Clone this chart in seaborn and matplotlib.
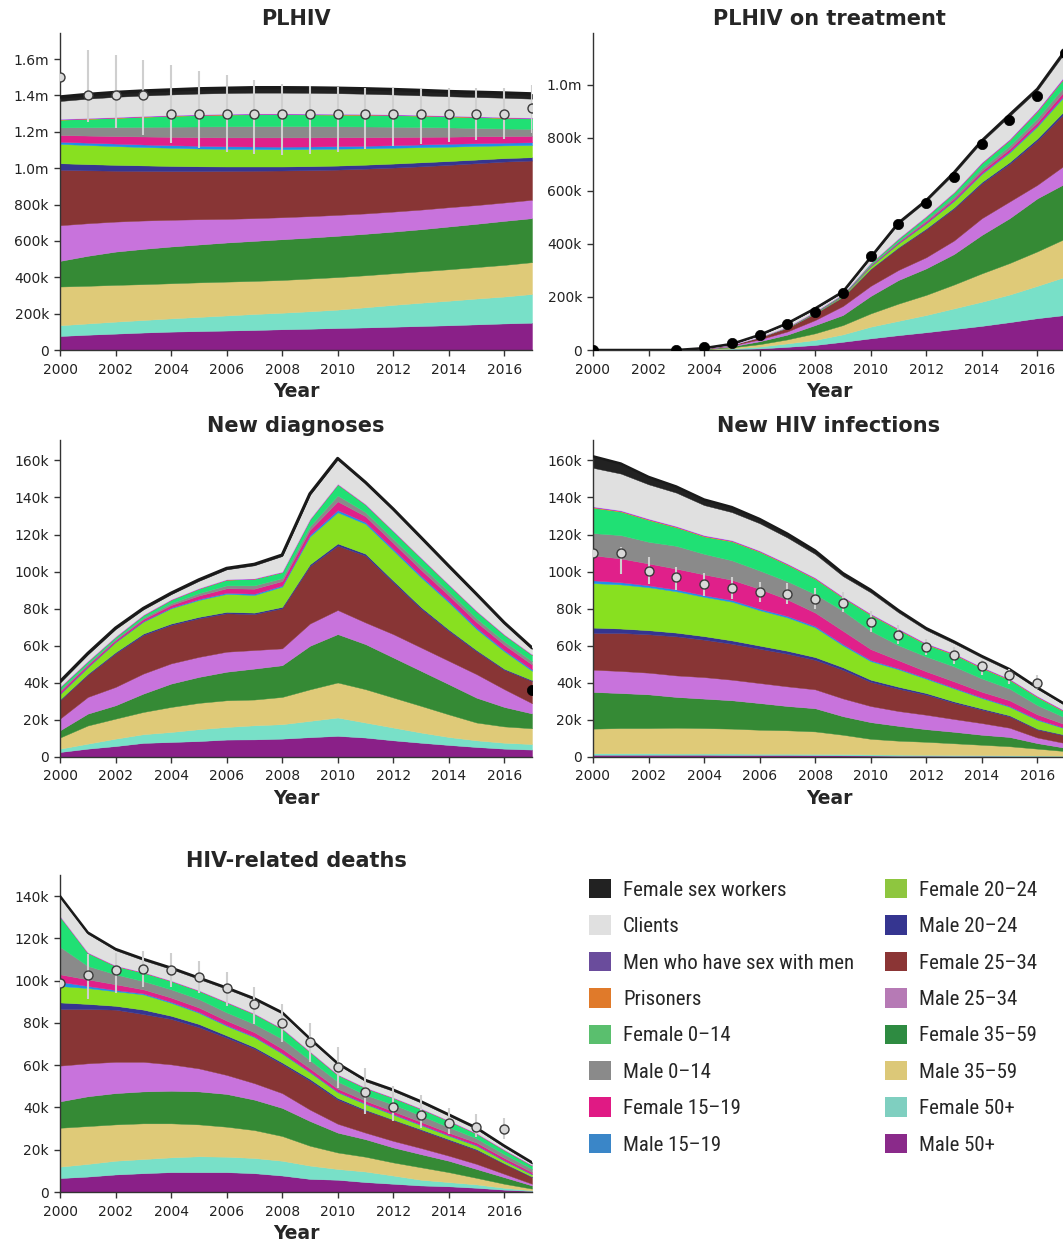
import numpy as np
import matplotlib
matplotlib.use("Agg")
import matplotlib.pyplot as plt
from matplotlib import font_manager as fm
from matplotlib.patches import Patch
from matplotlib.ticker import FuncFormatter
import seaborn as sns

years = np.arange(2000, 2018)
nan = np.nan

# ---- group labels (legend order) ----
labels = ["Female sex workers", "Clients", "Men who have sex with men", "Prisoners",
          "Female 0\u201314", "Male 0\u201314", "Female 15\u201319", "Male 15\u201319",
          "Female 20\u201324", "Male 20\u201324", "Female 25\u201334", "Male 25\u201334",
          "Female 35\u201359", "Male 35\u201359", "Female 50+", "Male 50+"]

# ---- PLHIV (thousands), stacked bottom to top ----
plhiv_m50 = [77, 84, 90, 96, 101, 104, 107, 110, 114, 117, 121, 124, 128, 132, 136, 141, 146, 150]
plhiv_f50 = [59, 62, 66, 69, 73, 78, 83, 88, 91, 96, 101, 111, 120, 128, 135, 142, 148, 158]
plhiv_m35 = [213, 207, 202, 197, 193, 190, 186, 182, 180, 180, 179, 176, 174, 173, 173, 173, 174, 175]
plhiv_f35 = [141, 165, 183, 194, 202, 208, 215, 220, 224, 225, 227, 228, 229, 231, 235, 238, 242, 242]
plhiv_m25 = [196, 179, 165, 156, 147, 139, 130, 125, 121, 118, 115, 112, 110, 108, 106, 103, 101, 101]
plhiv_f25 = [305, 291, 280, 273, 268, 265, 264, 261, 257, 253, 249, 246, 242, 238, 233, 230, 225, 216]
plhiv_m20 = [36, 34, 32, 30, 28, 26, 24, 23, 22, 22, 22, 22, 22, 22, 21, 20, 19, 18]
plhiv_f20 = [106, 105, 103, 101, 100, 98, 97, 96, 95, 94, 93, 90, 87, 83, 79, 75, 70, 67]
plhiv_m15 = [12, 13, 14, 14, 14, 15, 14, 14, 14, 14, 14, 14, 14, 15, 16, 15, 15, 15]
plhiv_f15 = [37, 39, 41, 44, 46, 47, 49, 50, 51, 50, 49, 47, 45, 42, 39, 38, 36, 35]
plhiv_m0 = [42, 46, 50, 53, 56, 59, 61, 62, 62, 62, 60, 59, 57, 54, 51, 46, 42, 39]
plhiv_f0 = [42, 46, 50, 55, 59, 62, 64, 65, 65, 64, 64, 64, 63, 62, 60, 59, 58, 57]
plhiv_pris = [2, 2, 2, 2, 2, 2, 2, 2, 2, 2, 2, 2, 2, 2, 2, 2, 2, 2]
plhiv_msm = [3, 3, 3, 3, 3, 3, 3, 3, 3, 3, 3, 3, 3, 3, 3, 3, 3, 3]
plhiv_cli = [98, 106, 111, 112, 113, 114, 114, 114, 114, 114, 113, 111, 109, 107, 106, 106, 106, 104]
plhiv_fsw = [22, 23, 24, 25, 25, 26, 26, 27, 27, 27, 27, 27, 27, 27, 26, 26, 26, 26]
plhiv_obs = [1500, 1400, 1400, 1400, 1300, 1300, 1300, 1300, 1300, 1300, 1300, 1300, 1300, 1300, 1300, 1300, 1300, 1330]
plhiv_lo = [nan, 1255, 1220, 1180, 1140, 1110, 1090, 1078, 1070, 1075, 1090, 1105, 1120, 1130, 1145, 1155, 1160, 1195]
plhiv_hi = [nan, 1648, 1624, 1592, 1565, 1535, 1510, 1485, 1465, 1452, 1444, 1440, 1440, 1440, 1442, 1442, 1442, 1455]

# ---- PLHIV on treatment (thousands) ----
art_m50 = [0, 0, 0, 0, 1, 3, 6, 12, 19, 31, 44, 56, 67, 79, 91, 105, 120, 132]
art_f50 = [0, 0, 0, 0, 1, 3, 7, 13, 19, 28, 44, 54, 65, 78, 91, 104, 122, 144]
art_m35 = [0, 0, 0, 0, 1, 4, 9, 15, 25, 35, 50, 65, 76, 90, 107, 119, 130, 144]
art_f35 = [0, 0, 0, 0, 1, 4, 11, 18, 31, 38, 66, 89, 100, 115, 145, 169, 200, 208]
art_m25 = [0, 0, 0, 0, 1, 3, 7, 12, 19, 34, 38, 38, 42, 51, 63, 63, 51, 70]
art_f25 = [0, 0, 0, 0, 1, 3, 8, 14, 25, 34, 63, 83, 105, 120, 131, 142, 167, 197]
art_m20 = [0, 0, 0, 0, 0, 0, 0, 0, 0.5, 1, 2, 3, 4, 5, 6, 7, 8, 10]
art_f20 = [0, 0, 0, 0, 0, 0.3, 0.7, 1.5, 2.5, 4, 9, 14, 19, 24, 30, 36, 45, 55]
art_m15 = [0, 0, 0, 0, 0, 0, 0, 0.2, 0.3, 0.5, 1, 1.5, 2, 2.5, 3, 3.5, 4, 5]
art_f15 = [0, 0, 0, 0, 0, 0, 0.3, 0.5, 1, 1.5, 3, 4, 6, 7, 9, 10, 12, 15]
art_m0 = [0, 0, 0, 0, 0, 0, 0.3, 0.5, 1, 1.5, 3, 4, 6, 8, 10, 12, 15, 18]
art_f0 = [0, 0, 0, 0, 0, 0, 0.5, 1, 2, 3, 5, 8, 11, 14, 18, 21, 26, 32]
art_pris = [0, 0, 0, 0, 0, 0, 0, 0, 0, 0.2, 0.5, 1, 1, 1, 1.5, 1.5, 2, 2]
art_msm = [0, 0, 0, 0, 0, 0, 0, 0.2, 0.3, 0.5, 1, 1.5, 2, 2, 3, 3, 4, 5]
art_cli = [0, 0, 0, 0, 1, 2.5, 6.7, 12, 9.9, 5.8, 17.5, 54, 55, 68.5, 76.5, 86, 73, 86]
art_fsw = [0, 0, 0, 0, 0, 0.2, 0.5, 1, 1.5, 2, 3, 4, 4, 5, 5, 6, 6, 7]
art_obs = [0, nan, nan, 0, 10, 25, 57, 97, 145, 214, 355, 474, 556, 654, 776, 866, 960, 1120]

# ---- New diagnoses (thousands) ----
dx_m50 = [2.7, 4.5, 5.9, 7.6, 8.1, 8.6, 9.4, 9.5, 9.9, 10.7, 11.4, 10.5, 9.0, 7.7, 6.5, 5.4, 4.5, 4.0]
dx_f50 = [1.8, 2.7, 4.0, 4.7, 5.4, 6.4, 6.8, 7.6, 7.8, 8.8, 9.9, 8.1, 6.9, 5.5, 4.3, 3.6, 3.2, 3.0]
dx_m35 = [6.0, 9.8, 10.8, 12.0, 13.5, 14.2, 14.4, 13.9, 14.7, 17.0, 18.9, 18.0, 16.2, 14.4, 12.2, 9.6, 8.8, 8.5]
dx_f35 = [3.9, 6.4, 7.2, 9.9, 12.6, 14.0, 15.4, 16.7, 17.1, 23.5, 26.1, 24.3, 21.6, 18.9, 16.3, 13.4, 10.5, 8.0]
dx_m25 = [6.3, 9.0, 9.9, 10.8, 10.9, 10.8, 10.8, 10.0, 9.1, 12.0, 13.0, 11.7, 12.6, 12.6, 12.6, 12.7, 9.6, 5.5]
dx_f25 = [9.9, 11.9, 18.1, 20.8, 20.7, 20.8, 20.7, 19.4, 21.6, 31.0, 34.7, 36.0, 27.9, 20.9, 16.1, 12.3, 10.4, 12.0]
dx_m20 = [0.5, 0.6, 0.7, 0.8, 0.8, 0.8, 0.8, 0.8, 0.8, 1.0, 1.2, 1.1, 1.0, 0.9, 0.8, 0.7, 0.6, 0.5]
dx_f20 = [2.8, 3.5, 5.4, 6.4, 8.2, 9.1, 9.7, 9.5, 10.9, 15.0, 16.8, 16.1, 16.2, 16.0, 14.6, 11.3, 9.4, 5.0]
dx_m15 = [0.3, 0.3, 0.2, 0.3, 0.4, 0.5, 0.6, 0.7, 0.6, 0.8, 1.2, 0.9, 0.9, 0.9, 0.8, 0.8, 0.7, 0.7]
dx_f15 = [1.2, 1.0, 0.9, 1.1, 1.4, 1.9, 2.4, 2.7, 2.4, 2.8, 4.7, 3.2, 3.2, 3.2, 3.0, 3.0, 2.8, 2.7]
dx_m0 = [0.8, 0.7, 0.6, 0.7, 1.0, 1.3, 1.6, 1.8, 1.6, 1.9, 3.2, 2.2, 2.2, 2.2, 2.0, 2.0, 1.9, 1.8]
dx_f0 = [1.5, 1.2, 1.1, 1.4, 1.8, 2.4, 3.0, 3.5, 3.2, 3.7, 6.0, 4.1, 4.1, 4.1, 3.7, 3.8, 3.5, 3.4]
dx_pris = [0.1] * 18
dx_msm = [0.2] * 18
dx_cli = [2.1, 3.4, 3.9, 2.8, 2.7, 3.9, 5.3, 7.0, 8.4, 12.9, 13.1, 11.1, 11.1, 10.3, 9.3, 8.4, 5.7, 2.9]
dx_fsw = [0.6] * 18
dx_obs = [nan] * 17 + [36]

# ---- New HIV infections (thousands) ----
inf_m50 = [1.2, 1.2, 1.2, 1.2, 1.2, 1.1, 1.1, 1.1, 1.0, 0.9, 0.8, 0.7, 0.7, 0.6, 0.6, 0.5, 0.5, 0.4]
inf_f50 = [0.8, 0.8, 0.8, 0.7, 0.7, 0.8, 0.7, 0.7, 0.7, 0.7, 0.6, 0.6, 0.5, 0.5, 0.4, 0.4, 0.3, 0.3]
inf_m35 = [13.3, 13.6, 13.6, 13.9, 13.7, 13.4, 12.9, 12.6, 12.1, 10.4, 8.4, 7.5, 7.0, 6.3, 5.6, 4.9, 3.7, 2.5]
inf_f35 = [19.8, 18.9, 18.2, 16.6, 15.9, 15.3, 14.4, 13.1, 12.5, 10.0, 9.0, 8.0, 6.8, 6.2, 5.4, 5.0, 3.0, 1.8]
inf_m25 = [12.0, 11.9, 11.7, 11.6, 11.6, 11.1, 10.8, 10.6, 10.2, 9.6, 8.7, 8.0, 7.8, 6.9, 6.3, 5.0, 3.0, 2.5]
inf_f25 = [19.8, 20.5, 20.7, 21.1, 20.2, 19.4, 18.5, 17.6, 15.9, 15.4, 13.0, 12.0, 10.8, 8.7, 7.2, 6.1, 4.3, 4.1]
inf_m20 = [2.9, 2.4, 2.2, 2.0, 1.9, 1.8, 1.7, 1.6, 1.5, 1.4, 1.2, 1.1, 0.9, 0.8, 0.7, 0.6, 0.5, 0.4]
inf_f20 = [24.0, 23.8, 23.2, 22.3, 21.2, 20.9, 19.1, 18.0, 16.0, 11.8, 10.0, 9.4, 7.7, 7.0, 5.6, 4.6, 4.7, 3.4]
inf_m15 = [1.5, 1.2, 1.0, 1.0, 0.9, 0.9, 0.8, 0.8, 0.7, 0.7, 0.6, 0.5, 0.5, 0.4, 0.4, 0.4, 0.4, 0.3]
inf_f15 = [13.5, 12.8, 11.8, 11.2, 11.2, 10.9, 10.7, 8.9, 7.3, 7.2, 5.9, 4.4, 3.5, 3.4, 3.0, 3.1, 2.6, 1.9]
inf_m0 = [12.0, 12.6, 11.7, 12.3, 11.1, 10.5, 9.9, 9.8, 10.0, 10.8, 9.9, 8.1, 8.0, 8.1, 7.2, 6.3, 5.0, 3.7]
inf_f0 = [13.7, 12.7, 11.8, 10.0, 9.4, 10.2, 10.1, 8.9, 8.2, 7.0, 8.6, 8.3, 6.5, 6.4, 5.6, 4.7, 4.3, 3.0]
inf_pris = [0.3] * 18
inf_msm = [0.4] * 18
inf_cli = [20.8, 19.8, 18.5, 18.0, 16.2, 15.1, 14.7, 14.0, 12.7, 11.0, 11.4, 8.7, 7.1, 5.4, 5.0, 4.3, 3.8, 2.9]
inf_fsw = [6.2, 5.4, 4.0, 3.3, 3.0, 2.7, 2.3, 2.1, 1.9, 1.6, 1.4, 1.2, 1.0, 0.9, 0.8, 0.8, 0.7, 0.6]
inf_obs = [110, 110, 100.1, 97.1, 93.1, 91.1, 89.0, 88.1, 85.0, 83.1, 73.0, 66.0, 59.1, 55.2, 49.1, 44.0, 40.1, nan]
inf_lo = [nan, 98.5, 93.1, 89.9, 86.7, 85.4, 83.6, 82.7, 80.0, 78.2, 67.4, 61.1, 54.8, 50.0, 44.0, 39.6, 36.9, nan]
inf_hi = [nan, 113.3, 107.9, 102.5, 99.2, 97.1, 94.4, 93.8, 91.3, 89.0, 78.7, 71.0, 63.8, 59.3, 52.5, 47.6, 44.0, nan]

# ---- HIV-related deaths (thousands) ----
dth_m50 = [6.6, 7.3, 8.3, 8.9, 9.4, 9.4, 9.4, 8.9, 7.8, 6.2, 5.8, 4.7, 3.9, 3.1, 2.7, 2.0, 1.1, 0.5]
dth_f50 = [5.4, 6.0, 6.5, 6.7, 7.0, 7.5, 7.3, 7.2, 7.0, 6.3, 5.1, 5.0, 3.9, 2.7, 2.0, 1.6, 0.9, 0.3]
dth_m35 = [18.4, 17.9, 17.2, 16.9, 16.1, 15.1, 14.2, 13.2, 11.7, 9.4, 7.8, 7.0, 6.2, 5.9, 4.7, 3.1, 1.9, 0.8]
dth_f35 = [12.5, 14.1, 14.8, 15.1, 15.4, 15.6, 15.5, 14.4, 13.3, 11.7, 9.4, 8.3, 7.1, 6.2, 5.4, 4.2, 3.1, 1.5]
dth_m25 = [16.9, 15.6, 14.8, 14.0, 12.5, 10.9, 9.0, 7.8, 7.0, 5.4, 4.2, 3.1, 3.1, 2.9, 2.4, 2.4, 1.6, 0.8]
dth_f25 = [26.8, 25.7, 24.7, 22.6, 21.5, 19.5, 17.6, 16.3, 13.7, 13.6, 11.4, 10.4, 9.8, 8.4, 7.3, 6.5, 4.7, 3.1]
dth_m20 = [3.1, 2.4, 1.8, 2.1, 1.5, 1.5, 1.1, 0.8, 0.8, 0.9, 0.8, 0.5, 0.3, 0.5, 0.5, 0.5, 0.3, 0.3]
dth_f20 = [7.8, 7.5, 6.9, 7.2, 6.1, 5.3, 4.5, 4.7, 4.2, 3.1, 2.7, 2.6, 2.3, 1.9, 1.6, 1.6, 1.2, 1.0]
dth_m15 = [2.0, 1.0, 0.6, 0.5, 0.5, 0.4, 0.4, 0.3, 0.3, 0.3, 0.3, 0.3, 0.3, 0.3, 0.3, 0.3, 0.2, 0.2]
dth_f15 = [3.5, 3.1, 2.7, 1.9, 2.0, 2.1, 2.1, 2.0, 2.0, 1.6, 1.4, 1.3, 1.3, 1.3, 1.2, 1.2, 1.1, 0.9]
dth_m0 = [13.0, 6.4, 4.7, 3.9, 3.9, 4.0, 3.9, 3.9, 4.7, 3.9, 3.4, 2.8, 3.2, 3.0, 2.6, 2.0, 1.8, 1.5]
dth_f0 = [14.3, 6.1, 3.9, 4.0, 3.9, 3.9, 4.7, 4.7, 4.7, 3.9, 3.1, 3.2, 3.1, 3.1, 2.9, 2.2, 1.9, 1.6]
dth_pris = [0.1] * 18
dth_msm = [0.2] * 18
dth_cli = [8.8, 8.8, 7.2, 5.6, 5.4, 5.3, 6.1, 6.5, 6.9, 5.4, 4.6, 2.9, 3.0, 2.7, 2.2, 1.9, 1.2, 0.6]
dth_fsw = [0.6] * 18
dth_obs = [98.8, 102.5, 104.9, 105.7, 105.2, 101.6, 96.3, 88.8, 80.2, 70.9, 59.2, 47.2, 40.3, 36.4, 32.5, 30.9, 30.0, nan]
dth_lo = [nan, 91.3, 94.4, 96.8, 96.8, 94.4, 88.2, 79.6, 71.0, 61.7, 49.2, 36.7, 33.6, 30.4, 27.3, 25.8, 25.0, nan]
dth_hi = [nan, 112.4, 113.2, 113.9, 113.2, 109.3, 104.1, 96.8, 88.8, 80.1, 68.7, 58.5, 50.3, 45.7, 39.8, 36.7, 35.1, nan]

# fill colours in stacking order (bottom -> top)
stack_colors = ["#8a2088", "#78e0c8", "#dfca78", "#358a35", "#c873dc", "#883535",
                "#353590", "#88e020", "#2090e8", "#e0208a", "#8a8a8a", "#20e074",
                "#ff7f0e", "#9b30ff", "#e0e0e0", "#222222"]
# legend swatch colours, in legend order
legend_colors = ["#222222", "#e0e0e0", "#6a4c9c", "#e07a2a", "#5abf6e", "#8a8a8a",
                 "#e01a84", "#3a86c8", "#8ec63f", "#353590", "#8b3535", "#b67ab5",
                 "#2e8b41", "#dcc878", "#7fcfc0", "#8a2a8a"]

sns.set_theme(style="ticks")
plt.rcParams["font.family"] = ["DejaVu Sans"]
plt.rcParams["axes.edgecolor"] = "#333333"
plt.rcParams["xtick.color"] = "#333333"
plt.rcParams["ytick.color"] = "#333333"

W, H = 1063, 1244
fig = plt.figure(figsize=(W / 100, H / 100), dpi=100)


def axes_at(x0, y_top, y_bot, x_end):
    return fig.add_axes([x0 / W, 1 - y_bot / H, (x_end - x0) / W, (y_bot - y_top) / H])


def fmt(v, _):
    if v == 0:
        return "0"
    if v >= 1e6:
        return f"{v / 1e6:.1f}m"
    return f"{int(round(v / 1e3))}k"


def panel(ax, layers, title, ytop, ystep, line_w, obs=None, lo=None, hi=None, filled=False):
    data = [np.asarray(l, dtype=float) * 1e3 for l in layers]
    base = np.zeros(len(years))
    for vals, c in zip(data, stack_colors):
        ax.fill_between(years, base, base + vals, color=c, lw=0.3, zorder=1)
        base = base + vals
    sns.lineplot(x=years, y=base, ax=ax, color="#1a1a1a", linewidth=line_w, zorder=3)
    if lo is not None:
        lo_ = np.asarray(lo, dtype=float) * 1e3
        hi_ = np.asarray(hi, dtype=float) * 1e3
        ok = ~np.isnan(lo_)
        ax.vlines(years[ok], lo_[ok], hi_[ok], colors="#cfcfcf", lw=1.5, zorder=4)
    if obs is not None:
        ob = np.asarray(obs, dtype=float) * 1e3
        ok = ~np.isnan(ob)
        if filled:
            sns.scatterplot(x=years[ok], y=ob[ok], ax=ax, s=55, color="#000000",
                            edgecolor="#000000", linewidth=0.5, zorder=5)
        else:
            sns.scatterplot(x=years[ok], y=ob[ok], ax=ax, s=42, color="#d9d9d9",
                            edgecolor="#3a3a3a", linewidth=1.0, zorder=5)
    ax.set_xlim(2000, 2017)
    ax.set_ylim(0, ytop)
    ax.set_xticks(np.arange(2000, 2017, 2))
    ax.set_yticks(np.arange(0, ytop, ystep))
    ax.yaxis.set_major_formatter(FuncFormatter(fmt))
    ax.tick_params(axis="both", labelsize=10, length=4, width=1, direction="out",
                   labelcolor="#222222", pad=4)
    ax.tick_params(axis="x", pad=5)
    ax.set_title(title, fontsize=15, fontweight="bold", pad=6)
    ax.set_xlabel("Year", fontsize=13.5, fontweight="bold", labelpad=4)
    ax.set_ylabel("")
    sns.despine(ax=ax)
    ax.spines["left"].set_linewidth(1)
    ax.spines["bottom"].set_linewidth(1)


ax1 = axes_at(60, 33, 350, 532)
panel(ax1, [plhiv_m50, plhiv_f50, plhiv_m35, plhiv_f35, plhiv_m25, plhiv_f25, plhiv_m20,
            plhiv_f20, plhiv_m15, plhiv_f15, plhiv_m0, plhiv_f0, plhiv_pris, plhiv_msm,
            plhiv_cli, plhiv_fsw],
      "PLHIV", 1743e3, 200e3, 2.5, plhiv_obs, plhiv_lo, plhiv_hi)

ax2 = axes_at(593, 33, 350, 1065)
panel(ax2, [art_m50, art_f50, art_m35, art_f35, art_m25, art_f25, art_m20, art_f20,
            art_m15, art_f15, art_m0, art_f0, art_pris, art_msm, art_cli, art_fsw],
      "PLHIV on treatment", 1196e3, 200e3, 1.8, art_obs, filled=True)

ax3 = axes_at(60, 440, 757, 532)
panel(ax3, [dx_m50, dx_f50, dx_m35, dx_f35, dx_m25, dx_f25, dx_m20, dx_f20,
            dx_m15, dx_f15, dx_m0, dx_f0, dx_pris, dx_msm, dx_cli, dx_fsw],
      "New diagnoses", 171e3, 20e3, 2.2, dx_obs, filled=True)

ax4 = axes_at(593, 440, 757, 1065)
panel(ax4, [inf_m50, inf_f50, inf_m35, inf_f35, inf_m25, inf_f25, inf_m20, inf_f20,
            inf_m15, inf_f15, inf_m0, inf_f0, inf_pris, inf_msm, inf_cli, inf_fsw],
      "New HIV infections", 171e3, 20e3, 1.8, inf_obs, inf_lo, inf_hi)

ax5 = axes_at(60, 875, 1192, 532)
panel(ax5, [dth_m50, dth_f50, dth_m35, dth_f35, dth_m25, dth_f25, dth_m20, dth_f20,
            dth_m15, dth_f15, dth_m0, dth_f0, dth_pris, dth_msm, dth_cli, dth_fsw],
      "HIV-related deaths", 150e3, 20e3, 1.8, dth_obs, dth_lo, dth_hi)

# legend in two columns; prefer a narrow face when one is installed
installed = {f.name for f in fm.fontManager.ttflist}
if "Liberation Sans Narrow" in installed:
    leg_family, leg_size = "Liberation Sans Narrow", 15.5
elif "Roboto Condensed" in installed:
    leg_family, leg_size = "Roboto Condensed", 15.0
else:
    leg_family, leg_size = "Liberation Sans", 13.5
leg_font = fm.FontProperties(family=[leg_family, "DejaVu Sans"], size=leg_size)
fs_px = leg_size * 100 / 72
swatch = 22 / fs_px
handles = [Patch(facecolor=c, edgecolor="none") for c in legend_colors]
common = dict(loc="upper left", frameon=False, borderaxespad=0, borderpad=0,
              handlelength=swatch, handleheight=swatch, handletextpad=12 / fs_px,
              labelspacing=15.6 / fs_px, prop=leg_font)
fig.legend(handles[:8], labels[:8], bbox_to_anchor=(589 / W, 1 - 879 / H), **common)
fig.legend(handles[8:], labels[8:], bbox_to_anchor=(885 / W, 1 - 879 / H), **common)

fig.savefig("out.png", dpi=100)
